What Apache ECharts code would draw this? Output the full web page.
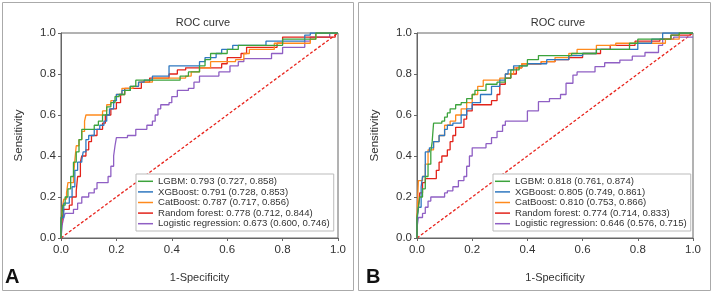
<!DOCTYPE html>
<html>
<head>
<meta charset="utf-8">
<script src="https://cdn.jsdelivr.net/npm/echarts@6/dist/echarts.min.js"></script>
<style>
  html, body { margin: 0; padding: 0; background: #fff; }
  #chart { width: 713px; height: 295px; }
</style>
</head>
<body>
<div id="chart"></div>
<script>
// model names and AUC labels
var models = ['LGBM', 'XGBoost', 'CatBoost', 'Random forest', 'Logistic regression'];
var aucA = ['0.793 (0.727, 0.858)', '0.791 (0.728, 0.853)', '0.787 (0.717, 0.856)', '0.778 (0.712, 0.844)', '0.673 (0.600, 0.746)'];
var aucB = ['0.818 (0.761, 0.874)', '0.805 (0.749, 0.861)', '0.810 (0.753, 0.866)', '0.774 (0.714, 0.833)', '0.646 (0.576, 0.715)'];
var colors = ['#3ca33c', '#2f78c0', '#ff8a1c', '#e2231a', '#8f5fc4'];

// ROC step points [1-specificity, sensitivity], panel A
var lgbmA = [[0,0],[0,0.08],[0.007,0.16],[0.015,0.2],[0.025,0.24],[0.035,0.3],[0.045,0.37],[0.055,0.42],[0.065,0.48],[0.075,0.53],[0.12,0.55],[0.135,0.57],[0.15,0.6],[0.165,0.64],[0.18,0.66],[0.195,0.69],[0.21,0.7],[0.23,0.72],[0.25,0.74],[0.27,0.77],[0.43,0.79],[0.46,0.81],[0.5,0.84],[0.52,0.87],[0.54,0.9],[0.6,0.92],[0.64,0.94],[0.8,0.97],[0.92,1.0],[1,1]];
var xgbA = [[0,0],[0,0.1],[0.01,0.17],[0.03,0.2],[0.04,0.25],[0.05,0.33],[0.06,0.37],[0.075,0.38],[0.08,0.42],[0.09,0.48],[0.1,0.5],[0.12,0.53],[0.14,0.55],[0.155,0.57],[0.165,0.6],[0.175,0.63],[0.19,0.67],[0.2,0.7],[0.22,0.72],[0.25,0.74],[0.28,0.76],[0.3,0.77],[0.33,0.79],[0.39,0.84],[0.5,0.86],[0.52,0.88],[0.56,0.9],[0.58,0.92],[0.62,0.94],[0.74,0.96],[0.88,0.99],[0.9,1.0],[1,1]];
var catA = [[0,0],[0,0.08],[0.005,0.15],[0.01,0.19],[0.02,0.22],[0.025,0.27],[0.045,0.3],[0.05,0.38],[0.055,0.45],[0.065,0.48],[0.075,0.52],[0.085,0.57],[0.09,0.6],[0.15,0.62],[0.165,0.65],[0.18,0.67],[0.2,0.7],[0.22,0.73],[0.26,0.74],[0.28,0.76],[0.33,0.78],[0.45,0.79],[0.47,0.81],[0.5,0.83],[0.54,0.86],[0.63,0.87],[0.66,0.9],[0.68,0.92],[0.77,0.95],[0.9,0.97],[0.92,1.0],[1,1]];
var rfA = [[0,0],[0,0.05],[0.005,0.1],[0.01,0.14],[0.03,0.16],[0.04,0.2],[0.055,0.23],[0.06,0.3],[0.07,0.37],[0.075,0.4],[0.09,0.43],[0.1,0.47],[0.11,0.5],[0.13,0.53],[0.15,0.56],[0.16,0.6],[0.18,0.63],[0.2,0.66],[0.215,0.7],[0.23,0.73],[0.29,0.76],[0.32,0.78],[0.39,0.8],[0.42,0.82],[0.45,0.83],[0.58,0.85],[0.6,0.88],[0.65,0.9],[0.67,0.93],[0.78,0.95],[0.8,0.98],[0.99,1.0],[1,1]];
var lrA = [[0,0],[0.005,0.07],[0.01,0.1],[0.015,0.12],[0.045,0.14],[0.06,0.17],[0.075,0.2],[0.1,0.22],[0.12,0.24],[0.13,0.27],[0.17,0.3],[0.18,0.35],[0.19,0.4],[0.195,0.45],[0.2,0.49],[0.24,0.5],[0.27,0.53],[0.31,0.55],[0.33,0.57],[0.34,0.6],[0.35,0.63],[0.36,0.65],[0.39,0.66],[0.4,0.69],[0.42,0.72],[0.46,0.73],[0.48,0.76],[0.5,0.79],[0.57,0.81],[0.61,0.84],[0.64,0.86],[0.66,0.875],[0.76,0.9],[0.8,0.93],[0.88,0.96],[0.9,0.98],[0.97,1.0],[1,1]];

// panel B
var lgbmB = [[0,0],[0,0.1],[0.005,0.15],[0.01,0.2],[0.02,0.24],[0.03,0.3],[0.04,0.36],[0.05,0.42],[0.055,0.47],[0.06,0.56],[0.09,0.57],[0.1,0.59],[0.11,0.61],[0.12,0.63],[0.14,0.65],[0.16,0.66],[0.18,0.68],[0.2,0.7],[0.21,0.72],[0.25,0.75],[0.29,0.76],[0.32,0.78],[0.34,0.82],[0.37,0.84],[0.4,0.87],[0.44,0.89],[0.56,0.9],[0.65,0.92],[0.77,0.95],[0.8,0.97],[0.92,0.99],[0.95,1.0],[1,1]];
var xgbB = [[0,0],[0,0.08],[0.005,0.15],[0.015,0.25],[0.02,0.3],[0.03,0.42],[0.045,0.44],[0.06,0.47],[0.08,0.5],[0.1,0.53],[0.11,0.55],[0.13,0.56],[0.16,0.6],[0.18,0.63],[0.2,0.66],[0.23,0.7],[0.27,0.74],[0.3,0.77],[0.32,0.8],[0.33,0.82],[0.35,0.84],[0.4,0.85],[0.47,0.87],[0.55,0.89],[0.6,0.9],[0.65,0.92],[0.8,0.95],[0.85,0.97],[0.89,1.0],[1,1]];
var catB = [[0,0],[0,0.1],[0.005,0.28],[0.02,0.3],[0.03,0.36],[0.04,0.43],[0.06,0.47],[0.08,0.5],[0.1,0.55],[0.12,0.57],[0.14,0.6],[0.16,0.63],[0.18,0.66],[0.2,0.7],[0.22,0.74],[0.24,0.77],[0.3,0.78],[0.32,0.8],[0.35,0.83],[0.38,0.85],[0.45,0.86],[0.5,0.88],[0.55,0.9],[0.58,0.92],[0.65,0.94],[0.72,0.95],[0.9,0.97],[0.95,1.0],[1,1]];
var rfB = [[0,0],[0,0.1],[0.005,0.15],[0.01,0.22],[0.02,0.27],[0.03,0.29],[0.07,0.33],[0.08,0.37],[0.09,0.4],[0.11,0.43],[0.12,0.47],[0.13,0.5],[0.14,0.54],[0.17,0.58],[0.18,0.62],[0.2,0.65],[0.27,0.67],[0.29,0.7],[0.3,0.75],[0.32,0.78],[0.34,0.8],[0.36,0.83],[0.38,0.85],[0.45,0.86],[0.5,0.87],[0.55,0.88],[0.6,0.9],[0.665,0.92],[0.7,0.94],[0.79,0.96],[0.88,0.97],[0.92,0.99],[0.99,1.0],[1,1]];
var lrB = [[0,0],[0,0.05],[0.005,0.1],[0.02,0.12],[0.03,0.15],[0.04,0.18],[0.05,0.2],[0.1,0.22],[0.11,0.23],[0.13,0.25],[0.15,0.28],[0.17,0.3],[0.18,0.35],[0.19,0.4],[0.2,0.44],[0.25,0.46],[0.27,0.49],[0.29,0.52],[0.31,0.55],[0.32,0.57],[0.4,0.62],[0.44,0.665],[0.48,0.68],[0.52,0.7],[0.54,0.755],[0.565,0.795],[0.58,0.81],[0.645,0.836],[0.68,0.855],[0.735,0.868],[0.78,0.887],[0.826,0.905],[0.875,0.94],[0.89,0.97],[0.93,0.98],[1,0.98]];

var chance = [[0,0],[1,1]];

var curvesA = [lgbmA, xgbA, catA, rfA, lrA];
var curvesB = [lgbmB, xgbB, catB, rfB, lrB];

var font = "'Liberation Sans', Arial, sans-serif";
var textColor = '#333';

function axisX(gi) {
	return {
		type: 'value', gridIndex: gi, min: 0, max: 1, interval: 0.2,
		name: '1-Specificity', nameLocation: 'middle', nameGap: 34,
		nameTextStyle: { fontFamily: font, fontSize: 11, color: textColor },
		axisLine: { lineStyle: { color: '#666' } },
		axisTick: { length: 3, lineStyle: { color: '#666' } },
		axisLabel: { fontFamily: font, fontSize: 11.5, color: textColor, margin: 6,
			formatter: function (v) { return v.toFixed(1); } },
		splitLine: { show: false }
	};
}
function axisY(gi) {
	return {
		type: 'value', gridIndex: gi, min: 0, max: 1, interval: 0.2,
		name: 'Sensitivity', nameLocation: 'middle', nameGap: 36,
		nameTextStyle: { fontFamily: font, fontSize: 11.5, color: textColor },
		axisLine: { lineStyle: { color: '#666' } },
		axisTick: { length: 3, lineStyle: { color: '#666' } },
		axisLabel: { fontFamily: font, fontSize: 11.5, color: textColor, margin: 5,
			formatter: function (v) { return v.toFixed(1); } },
		splitLine: { show: false }
	};
}

var series = [];
function addPanel(curves, auc, gi) {
	for (var i = 0; i < curves.length; i++) {
		series.push({
			name: models[i] + ': ' + auc[i],
			type: 'line', xAxisIndex: gi, yAxisIndex: gi,
			data: curves[i], step: 'end', showSymbol: false,
			color: colors[i],
			lineStyle: { width: 1.3, color: colors[i] },
			z: 10 - i
		});
	}
	series.push({
		type: 'line', xAxisIndex: gi, yAxisIndex: gi,
		data: chance, showSymbol: false,
		lineStyle: { width: 1.3, color: '#e8231c', type: [3, 2] },
		z: 1
	});
}
addPanel(curvesA, aucA, 0);
addPanel(curvesB, aucB, 1);

function legend(left, auc) {
	return {
		left: left, top: 174, orient: 'vertical',
		data: models.map(function (m, i) { return m + ': ' + auc[i]; }),
		icon: 'rect', itemWidth: 15, itemHeight: 1.5, itemGap: 0,
		padding: [2, 4, 2, 2],
		borderColor: '#bbb', borderWidth: 1, backgroundColor: '#fff',
		textStyle: { fontFamily: font, fontSize: 9.6, color: textColor, lineHeight: 10.6 },
		selectedMode: false
	};
}

var chart = echarts.init(document.getElementById('chart'));
chart.setOption({
	animation: false,
	backgroundColor: '#fff',
	grid: [
		{ left: 61, top: 33, width: 277, height: 205, show: true, borderColor: '#666', borderWidth: 1 },
		{ left: 417, top: 33, width: 276, height: 205, show: true, borderColor: '#666', borderWidth: 1 }
	],
	xAxis: [axisX(0), axisX(1)],
	yAxis: [axisY(0), axisY(1)],
	legend: [legend(136, aucA), legend(493, aucB)],
	graphic: [
		{ type: 'rect', shape: { x: 2.5, y: 2.5, width: 351, height: 288 }, style: { fill: 'none', stroke: '#aaa', lineWidth: 1 }, z: -1 },
		{ type: 'rect', shape: { x: 358.5, y: 2.5, width: 352, height: 288 }, style: { fill: 'none', stroke: '#aaa', lineWidth: 1 }, z: -1 },
		{ type: 'text', x: 203, y: 23, style: { text: 'ROC curve', fontFamily: font, fontSize: 11, fill: textColor, align: 'center', verticalAlign: 'middle' } },
		{ type: 'text', x: 558, y: 23, style: { text: 'ROC curve', fontFamily: font, fontSize: 11, fill: textColor, align: 'center', verticalAlign: 'middle' } },
		{ type: 'text', x: 5, y: 277, style: { text: 'A', fontFamily: font, fontWeight: 'bold', fontSize: 20, fill: '#111', verticalAlign: 'middle' } },
		{ type: 'text', x: 366, y: 277, style: { text: 'B', fontFamily: font, fontWeight: 'bold', fontSize: 20, fill: '#111', verticalAlign: 'middle' } }
	],
	series: series
});
</script>
</body>
</html>
